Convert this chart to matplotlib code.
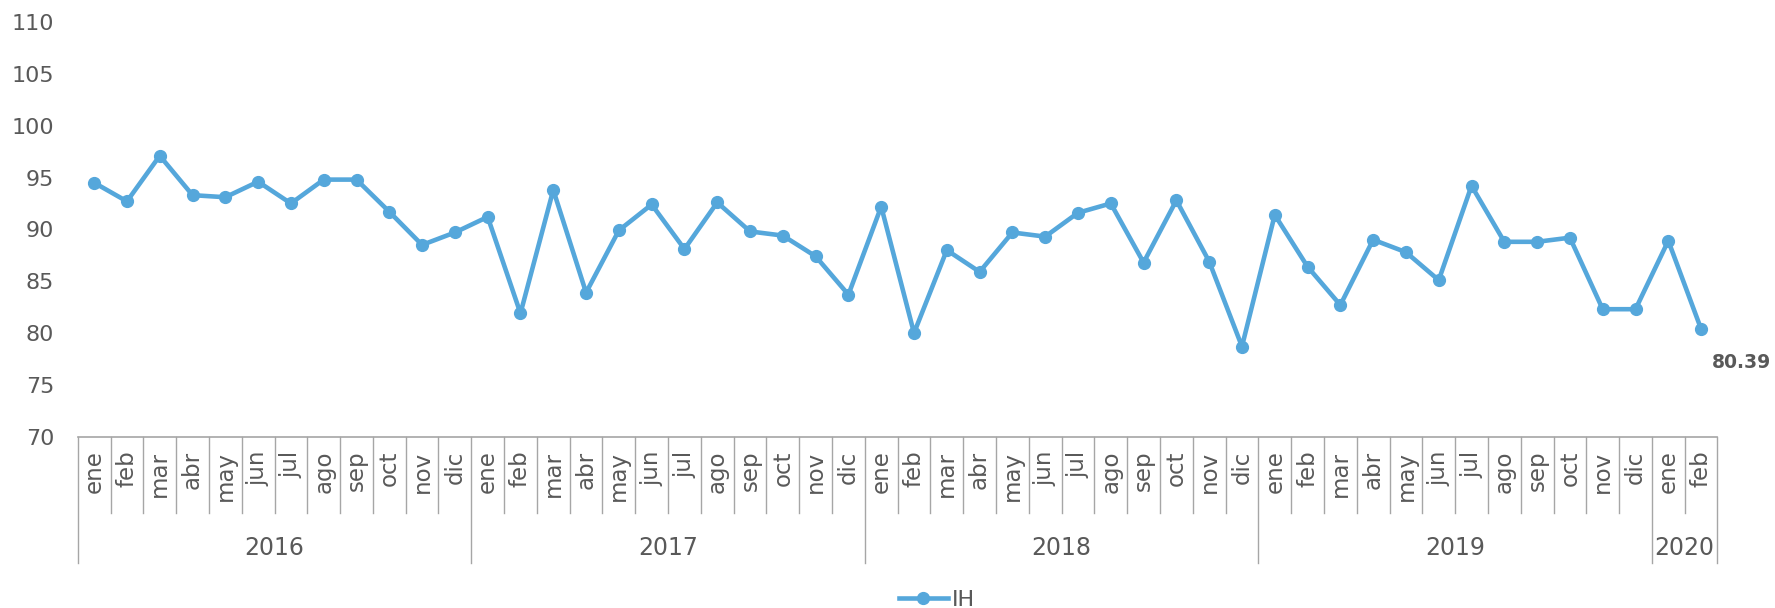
import matplotlib
matplotlib.use("Agg")
import matplotlib.pyplot as plt
import matplotlib.transforms as mtransforms
import numpy as np

months = ["ene", "feb", "mar", "abr", "may", "jun", "jul", "ago", "sep", "oct", "nov", "dic"] * 4 + ["ene", "feb"]
years = ["2016"] * 12 + ["2017"] * 12 + ["2018"] * 12 + ["2019"] * 12 + ["2020"] * 2
values = [94.5, 92.7, 97.1, 93.3, 93.1, 94.6, 92.5, 94.8, 94.8, 91.7, 88.5, 89.7,
          91.2, 81.9, 93.8, 83.9, 89.9, 92.4, 88.1, 92.6, 89.8, 89.4, 87.4, 83.7,
          92.2, 80.0, 88.0, 85.9, 89.7, 89.3, 91.6, 92.5, 86.8, 92.8, 86.9, 78.7,
          91.4, 86.4, 82.7, 89.0, 87.8, 85.1, 94.2, 88.8, 88.8, 89.2, 82.3, 82.3,
          88.9, 80.39]
series_name = "IH"
last_label = "80.39"
yticks = [70, 75, 80, 85, 90, 95, 100, 105, 110]

LINE = "#55A7DB"
TXT = "#595959"
GRID = "#A6A6A6"

plt.rcParams['font.family'] = ['DejaVu Sans']

fig = plt.figure(figsize=(17.75, 6.08), dpi=100)
ax = fig.add_axes([0.0438, 0.2817, 0.9238, 0.6821])

x = np.arange(len(values))
ax.plot(x, values, color=LINE, lw=3.3, marker="o", markersize=8.5,
        markerfacecolor=LINE, markeredgecolor=LINE, label=series_name, zorder=3)

ax.set_xlim(-0.5, len(values) - 0.5)
ax.set_ylim(70, 110)
ax.set_yticks(yticks)
ax.set_yticklabels([str(v) for v in yticks])
ax.tick_params(axis="y", length=0, pad=17, labelsize=16, labelcolor=TXT)

ax.set_xticks(x)
ax.set_xticklabels(months, rotation=90)
ax.tick_params(axis="x", length=0, pad=10, labelsize=16.5, labelcolor=TXT)

for s in ["top", "right", "left"]:
    ax.spines[s].set_visible(False)
ax.spines["bottom"].set_color(GRID)
ax.spines["bottom"].set_linewidth(1.2)

trans = mtransforms.blended_transform_factory(ax.transData, ax.transAxes)
month_bottom = -0.184
year_bottom = -0.305

year_arr = np.array(years)
boundaries = [i for i in range(1, len(values)) if years[i] != years[i - 1]]
for b in range(len(values) + 1):
    xb = b - 0.5
    yb = year_bottom if (b == 0 or b == len(values) or b in boundaries) else month_bottom
    ax.plot([xb, xb], [0, yb], color=GRID, lw=1.0, transform=trans, clip_on=False)

for yr in dict.fromkeys(years):
    idx = np.where(year_arr == yr)[0]
    ax.text(idx.mean(), -0.268, yr, transform=trans, ha="center", va="center",
            fontsize=17, color=TXT)

ax.annotate(last_label, (x[-1], values[-1]), xytext=(8, -24), textcoords="offset points",
            ha="left", va="center", fontsize=13.5, fontweight="bold", color=TXT,
            annotation_clip=False)

leg = fig.legend(loc="center", bbox_to_anchor=(0.528, 0.013), frameon=False,
                 fontsize=16, handlelength=2.2, handletextpad=0.2)
for t in leg.get_texts():
    t.set_color(TXT)

fig.savefig("out.png", dpi=100)
